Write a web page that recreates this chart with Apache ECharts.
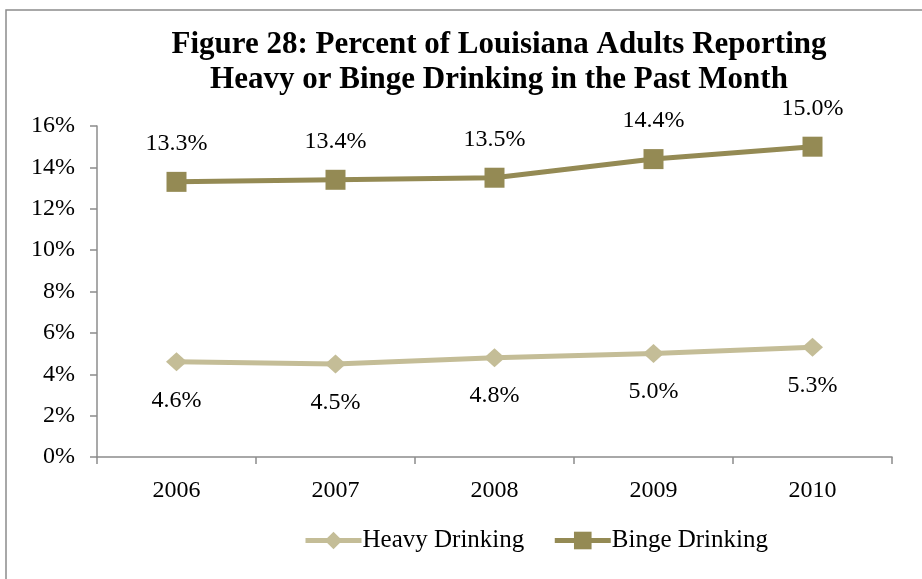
<!DOCTYPE html>
<html>
<head>
<meta charset="utf-8">
<script src="https://cdn.jsdelivr.net/npm/echarts@6/dist/echarts.min.js"></script>
<style>
  html, body { margin: 0; padding: 0; background: #fff; }
  #main { width: 922px; height: 579px; }
</style>
</head>
<body>
<div id="main"></div>
<script>
const years = ["2006", "2007", "2008", "2009", "2010"];
const heavyDrinking = [4.6, 4.5, 4.8, 5.0, 5.3];
const bingeDrinking = [13.3, 13.4, 13.5, 14.4, 15.0];

const serif = "Liberation Serif";
const axisGray = "#8c8c8c";

const chart = echarts.init(document.getElementById("main"));

chart.setOption({
  animation: false,
  backgroundColor: "#fff",
  textStyle: { fontFamily: serif },
  title: {
    text: "Figure 28: Percent of Louisiana Adults Reporting\nHeavy or Binge Drinking in the Past Month",
    left: 494,
    top: 22,
    textAlign: "center",
    textStyle: {
      fontFamily: serif,
      fontWeight: "bold",
      fontSize: 31,
      lineHeight: 35,
      color: "#000"
    }
  },
  graphic: [{
    type: "rect",
    shape: { x: 6, y: 10, width: 1000, height: 1000 },
    style: { fill: null, stroke: axisGray, lineWidth: 1.5 },
    silent: true
  }],
  legend: {
    left: 298,
    top: 523,
    itemWidth: 56,
    itemHeight: 22,
    itemGap: 28,
    lineStyle: { width: 5 },
    textStyle: { fontFamily: serif, fontSize: 25, color: "#000", padding: [0, 0, 0, -4] },
    data: ["Heavy Drinking", "Binge Drinking"]
  },
  grid: { left: 97, right: 30, top: 126, bottom: 122 },
  xAxis: {
    type: "category",
    data: years,
    boundaryGap: true,
    axisLine: { lineStyle: { color: axisGray, width: 1.5 } },
    axisTick: { show: true, length: 7, lineStyle: { color: axisGray, width: 1.5 } },
    axisLabel: { color: "#000", fontSize: 24, fontFamily: serif, margin: 22 },
    splitLine: { show: false }
  },
  yAxis: {
    type: "value",
    min: 0,
    max: 16,
    interval: 2,
    axisLine: { show: true, lineStyle: { color: axisGray, width: 1.5 } },
    axisTick: { show: true, length: 7, lineStyle: { color: axisGray, width: 1.5 } },
    axisLabel: { color: "#000", fontSize: 24, fontFamily: serif, margin: 22, formatter: "{value}%" },
    splitLine: { show: false }
  },
  series: [
    {
      name: "Heavy Drinking",
      type: "line",
      data: heavyDrinking,
      symbol: "diamond",
      symbolSize: [21, 19],
      showAllSymbol: true,
      lineStyle: { color: "#c4bd97", width: 5 },
      itemStyle: { color: "#c4bd97" },
      label: {
        show: true,
        position: "bottom",
        distance: 17,
        fontFamily: serif,
        fontSize: 24,
        color: "#000",
        formatter: (p) => p.value.toFixed(1) + "%"
      }
    },
    {
      name: "Binge Drinking",
      type: "line",
      data: bingeDrinking,
      symbol: "rect",
      symbolSize: 20,
      showAllSymbol: true,
      lineStyle: { color: "#948a54", width: 5 },
      itemStyle: { color: "#948a54" },
      label: {
        show: true,
        position: "top",
        distance: 16,
        fontFamily: serif,
        fontSize: 24,
        color: "#000",
        formatter: (p) => p.value.toFixed(1) + "%"
      }
    }
  ]
});
</script>
</body>
</html>
